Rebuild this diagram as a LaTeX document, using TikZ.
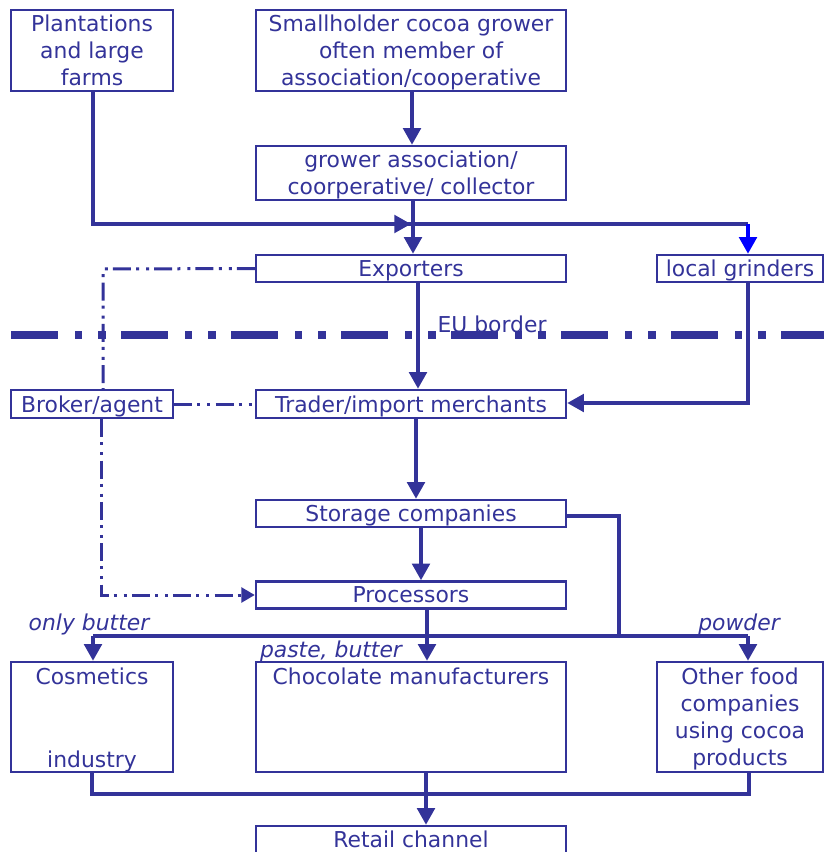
\documentclass[tikz,border=0pt]{standalone}
\usepackage{fontspec}
\setmainfont{DejaVu Sans}
\usetikzlibrary{arrows.meta}
\definecolor{dblue}{RGB}{51,51,153}
\definecolor{bblue}{RGB}{0,0,255}
\begin{document}
\begin{tikzpicture}[x=0.75pt,y=-0.75pt,
  every node/.style={font=\fontsize{16.4pt}{20.25pt}\selectfont, text=dblue},
  box/.style={draw=dblue, line width=1.8pt, inner sep=0pt, align=center, text depth=0pt},
  conn/.style={draw=dblue, line width=3pt},
  arr/.style={conn, -{Triangle[length=12.5pt,width=13pt]}},
  ddd/.style={draw=dblue, line width=2.25pt, dash pattern=on 13.5pt off 3.75pt on 2.25pt off 5.25pt on 2.25pt off 4pt},
  lbl/.style={font=\fontsize{16.4pt}{20.25pt}\selectfont\itshape}
]
\useasboundingbox (0,0) rectangle (824,852);
% boxes
\node[box, minimum width=162*0.75pt, minimum height=81*0.75pt] (plant) at (92,50.5) {Plantations\\and large\\farms};
\node[box, minimum width=310*0.75pt, minimum height=81*0.75pt] (small) at (411,50.5) {Smallholder cocoa grower\\often member of\\association/cooperative};
\node[box, minimum width=310*0.75pt, minimum height=54*0.75pt] (grower) at (411,173) {grower association/\\coorperative/ collector};
\node[box, minimum width=310*0.75pt, minimum height=27*0.75pt] (export) at (411,268.5) {Exporters};
\node[box, minimum width=166*0.75pt, minimum height=27*0.75pt] (grind) at (740,268.5) {local grinders};
\node[box, minimum width=162*0.75pt, minimum height=28*0.75pt] (broker) at (92,404) {Broker/agent};
\node[box, minimum width=310*0.75pt, minimum height=28*0.75pt] (trader) at (411,404) {Trader/import merchants};
\node[box, minimum width=310*0.75pt, minimum height=27*0.75pt] (storage) at (411,513.5) {Storage companies};
\node[box, minimum width=310*0.75pt, minimum height=27*0.75pt] (proc) at (411,595) {Processors};
\node[box, minimum width=162*0.75pt, minimum height=110*0.75pt] (cosm) at (92,717) {};
\node[anchor=north, inner sep=0pt] (cosmt) at (92,668) {Cosmetics};
\node[anchor=south, inner sep=0pt] (cosmb) at (92,772) {industry};
\node[box, minimum width=310*0.75pt, minimum height=110*0.75pt] (choc) at (411,717) {};
\node[anchor=north, inner sep=0pt] (choct) at (411,668) {Chocolate manufacturers};
\node[box, minimum width=166*0.75pt, minimum height=110*0.75pt] (other) at (740,717) {Other food\\companies\\using cocoa\\products};
\node[box, minimum width=310*0.75pt, minimum height=27*0.75pt] (retail) at (411,839.5) {Retail channel};
% labels
\node[lbl] (l1) at (89,624) {only butter};
\node[lbl] (l2) at (331,651) {paste, butter};
\node[lbl] (l3) at (739,624) {powder};
\node (eu) at (492,324) {EU border};
% EU border line
\coordinate (eua) at (11,335);
\coordinate (eub) at (824,335);
\draw[dblue, line width=6pt, dash pattern=on 35.25pt off 12.75pt on 5.25pt off 12pt on 6pt off 11.25pt] (eua) -- (eub);
% coordinates
\coordinate (j1) at (93,224);
\coordinate (j2) at (413,224);
\coordinate (j3) at (748,224);
\coordinate (g1) at (748,403);
\coordinate (s1) at (619,515.5);
\coordinate (s2) at (619,636);
\coordinate (h1) at (93,636);
\coordinate (h2) at (748,636);
\coordinate (b1) at (92,794);
\coordinate (b2) at (749,794);
\coordinate (d1) at (103,269);
\coordinate (d2) at (101,595);
% connectors
\draw[arr] ([xshift=0.75pt]small.south) -- ([xshift=0.75pt]grower.north);
\draw[arr] ([xshift=1.5pt]grower.south) -- ([xshift=1.5pt]export.north);
\draw[conn] (plant.south -| j1) -- (j1) -- (j2);
\draw[arr] (j1) -- ([xshift=-1.5pt]j2);
\draw[conn] (j2) -- (j3);
\draw[bblue, line width=3pt, -{Triangle[length=12.5pt,width=13pt]}] (j3) -- (grind.north -| j3);
\draw[arr] ([xshift=5.25pt]export.south) -- ([xshift=5.25pt]trader.north);
\draw[arr] (grind.south -| g1) -- (g1) -- (trader.east |- g1);
\draw[arr] ([xshift=3.75pt]trader.south) -- ([xshift=3.75pt]storage.north);
\draw[arr] ([xshift=7.5pt]storage.south) -- ([xshift=7.5pt]proc.north);
\draw[conn] (storage.east |- s1) -- (s1) -- (s2);
\draw[conn] (h1) -- (h2);
\draw[arr] (h1) -- (cosm.north -| h1);
\draw[arr] (h2) -- (other.north -| h2);
\draw[arr] ([xshift=12pt]proc.south) -- ([xshift=12pt]choc.north);
\draw[conn] (cosm.south -| b1) -- (b1) -- (b2) -- (other.south -| b2);
\draw[arr] ([xshift=11.25pt]choc.south) -- ([xshift=11.25pt]retail.north);
% dash-dot connectors
\draw[ddd] (export.west) -- (d1) -- (broker.north -| d1);
\draw[ddd] (broker.east) -- (trader.west);
\draw[ddd, -{Triangle[length=10pt,width=11pt]}] (broker.south -| d2) -- (d2) -- (proc.west);
\end{tikzpicture}
\end{document}
